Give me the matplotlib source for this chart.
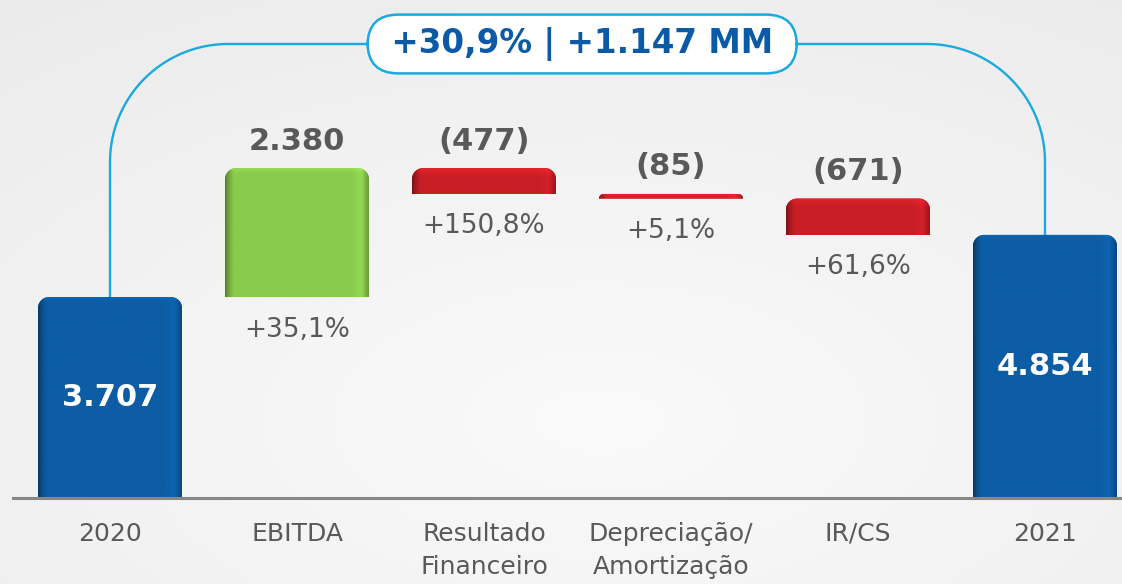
import numpy as np
import matplotlib
matplotlib.use("Agg")
import matplotlib.pyplot as plt
from matplotlib.path import Path
from matplotlib.patches import PathPatch
from matplotlib.colors import to_rgb

# ---------------- data ----------------
categories = ["2020", "EBITDA", "Resultado\nFinanceiro", "Depreciação/\nAmortização", "IR/CS", "2021"]
values = [3707, 2380, -477, -85, -671, 4854]
kinds = ["total", "up", "down", "down", "down", "total"]
value_labels = ["3.707", "2.380", "(477)", "(85)", "(671)", "4.854"]
pct_labels = ["", "+35,1%", "+150,8%", "+5,1%", "+61,6%", ""]
headline = "+30,9% | +1.147 MM"

# ---------------- layout / style ----------------
W, H, DPI = 1122, 584, 100
base_px = 498          # pixel row of the baseline
px_per_unit = 0.0542   # vertical pixels per value unit
slot = 187             # pixels per category
x0_px = 110            # pixel centre of first category
bar_w_px = 144
corner_px = 11
conn_y_px = 44
conn_r_px = 118

COL = {"total": "#0C5DA5", "up": "#8ACB4C", "down": "#C71E25"}
GRAY = "#595959"
CYAN = "#1BAAE0"
NAVY = "#0B5AA5"

fig = plt.figure(figsize=(W / DPI, H / DPI), dpi=DPI)
fig.patch.set_facecolor("#F3F3F3")

# background soft gradient
bg = fig.add_axes([0, 0, 1, 1])
bg.axis("off")
yy, xx = np.mgrid[0:H, 0:W]
d = np.sqrt(((xx - 600) / W) ** 2 + ((yy - 420) / H) ** 2)
d = np.clip(d / d.max(), 0, 1)
c_in = np.array(to_rgb("#FAFAFA"))
c_out = np.array(to_rgb("#EBEBEB"))
img = c_in[None, None, :] * (1 - d[..., None]) + c_out[None, None, :] * d[..., None]
bg.imshow(img, extent=[0, 1, 0, 1], aspect="auto", origin="upper")
bg.set_xlim(0, 1)
bg.set_ylim(0, 1)

ax = fig.add_axes([0, (H - base_px) / H, 1, base_px / H])
ax.patch.set_alpha(0)
ax.set_xlim(-x0_px / slot, (W - x0_px) / slot)
ax.set_ylim(0, base_px / px_per_unit)
for s in ax.spines.values():
    s.set_visible(False)
ax.set_yticks([])
ax.set_xticks(range(len(categories)))
ax.set_xticklabels(categories, fontsize=18, color=GRAY, linespacing=1.5)
ax.tick_params(axis="x", length=0, pad=17)
ax.axhline(0, xmin=13 / W, xmax=1, color="#878787", lw=2.2, zorder=5, clip_on=False)

# waterfall geometry
bottoms, heights = [], []
running = 0
for v, k in zip(values, kinds):
    if k == "total":
        bottoms.append(0)
        heights.append(v)
        running = v
    else:
        if v >= 0:
            bottoms.append(running)
            heights.append(v)
        else:
            bottoms.append(running + v)
            heights.append(-v)
        running += v

bars = ax.bar(range(len(values)), heights, bottom=bottoms, width=bar_w_px / slot,
              color=[COL[k] for k in kinds], alpha=0)


def rounded_top_path(x, y, w, h, rx, ry):
    pts = [(x, y), (x, y + h - ry)]
    t = np.linspace(np.pi, np.pi / 2, 12)
    cx, cy = x + rx, y + h - ry
    pts += list(zip(cx + rx * np.cos(t), cy + ry * np.sin(t)))
    t = np.linspace(np.pi / 2, 0, 12)
    cx = x + w - rx
    pts += list(zip(cx + rx * np.cos(t), cy + ry * np.sin(t)))
    pts += [(x + w, y), (x, y)]
    codes = [Path.MOVETO] + [Path.LINETO] * (len(pts) - 2) + [Path.CLOSEPOLY]
    return Path(pts, codes)


def shade(base, kind, nx, ny, h_px):
    base = np.array(to_rgb(base))
    t = np.linspace(0, 1, nx)
    f = np.ones(nx)
    left = t < 0.06
    f[left] = 0.6 + 0.4 * (t[left] / 0.06) ** 0.7
    m = (t >= 0.88) & (t < 0.95)
    f[m] = 1.0 + 0.07 * (t[m] - 0.88) / 0.07
    r = t >= 0.95
    f[r] = 1.07 - 0.3 * (t[r] - 0.95) / 0.05
    rows = np.arange(ny) / max(ny - 1, 1) * h_px  # pixels from top
    hl = 9.0 if kind == "down" else 5.0
    amp = 0.14 if kind == "down" else 0.08
    g = 1.0 + amp * np.clip(1 - rows / hl, 0, 1)
    fac = f[None, :] * g[:, None]
    im = np.clip(base[None, None, :] * fac[..., None], 0, 1)
    return im


for rect, k in zip(bars, kinds):
    x, y, w, h = rect.get_x(), rect.get_y(), rect.get_width(), rect.get_height()
    h_px = h * px_per_unit
    r = min(corner_px, h_px)
    rx = r / slot
    ry = r / px_per_unit
    path = rounded_top_path(x, y, w, h, rx, ry)
    patch = PathPatch(path, facecolor=COL[k], edgecolor="none", zorder=2)
    ax.add_patch(patch)
    ny = max(int(h_px * 2), 4)
    im = ax.imshow(shade(COL[k], k, 200, ny, h_px), extent=[x, x + w, y, y + h],
                   aspect="auto", origin="upper", interpolation="bilinear", zorder=3)
    im.set_clip_path(patch)

# labels
for i, (k, lab, pct) in enumerate(zip(kinds, value_labels, pct_labels)):
    top = bottoms[i] + heights[i]
    if k == "total":
        ax.text(i, heights[i] / 2, lab, ha="center", va="center", fontsize=22,
                fontweight="bold", color="white", zorder=6)
    else:
        ax.annotate(lab, (i, top), xytext=(0, 9), textcoords="offset points",
                    ha="center", va="bottom", fontsize=22, fontweight="bold",
                    color=GRAY, zorder=6)
        ax.annotate(pct, (i, bottoms[i]), xytext=(0, -14), textcoords="offset points",
                    ha="center", va="top", fontsize=19, color=GRAY, zorder=6)

# connector between first and last totals
yc = (base_px - conn_y_px) / px_per_unit
rx = conn_r_px / slot
ry = conn_r_px / px_per_unit
xl, yl = 0, values[0]
xr, yr = len(values) - 1, values[-1]
pts = [(xl, yl), (xl, yc - ry)]
t = np.linspace(np.pi, np.pi / 2, 40)
pts += list(zip(xl + rx + rx * np.cos(t), yc - ry + ry * np.sin(t)))
t = np.linspace(np.pi / 2, 0, 40)
pts += list(zip(xr - rx + rx * np.cos(t), yc - ry + ry * np.sin(t)))
pts += [(xr, yr)]
px_, py_ = zip(*pts)
ax.plot(px_, py_, color=CYAN, lw=1.7, zorder=1, clip_on=False, solid_capstyle="butt")

ax.text((xl + xr) / 2 + 0.025, yc, " " + headline + " ", ha="center", va="center",
        fontsize=23.5, fontweight="bold", color=NAVY, zorder=7,
        bbox=dict(boxstyle="round,pad=0.38,rounding_size=0.95", fc="white",
                  ec=CYAN, lw=1.8))

fig.savefig("out.png", dpi=DPI, facecolor=fig.get_facecolor())
